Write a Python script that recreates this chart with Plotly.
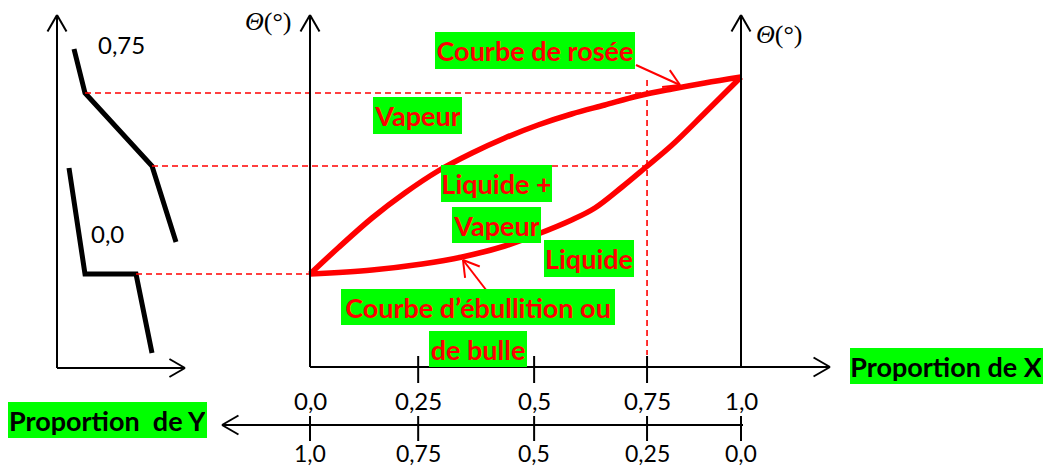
import math
import plotly.graph_objects as go

W, H = 1049, 470

# ---------------- data ----------------
# dew curve (courbe de rosée): vapour composition vs temperature
dew_x = [0.0, 0.065, 0.144, 0.220, 0.297, 0.376, 0.452, 0.529, 0.607, 0.684, 0.761, 0.840, 0.916, 1.0]
dew_theta = [93, 119, 149, 174, 196, 214, 229, 242, 253, 262, 271, 278, 284, 290]
# bubble curve (courbe d'ébullition)
bub_x = [0.0, 0.144, 0.260, 0.353, 0.452, 0.529, 0.607, 0.661, 0.724, 0.777, 0.840, 0.916, 1.0]
bub_theta = [93, 97, 103, 110, 121, 133, 147, 159, 180, 199, 222, 254, 290]
# cooling curves (time, temperature)
cool75_t = [1.7, 2.8, 9.5, 11.9]
cool75_theta = [318, 274, 201, 125]
cool0_t = [1.2, 2.8, 7.9, 9.5]
cool0_theta = [199, 93, 93, 14]
# proportion scales
x_tick_labels = ["0,0", "0,25", "0,5", "0,75", "1,0"]
y_tick_labels = ["1,0", "0,75", "0,5", "0,25", "0,0"]
tick_pos = [0.0, 0.251, 0.520, 0.782, 1.0]   # drawn positions on the X axis
comp_index = 3                               # composition studied (0,75)

# ---------------- scales ----------------
X0, X1 = -310 / 431, 739 / 431
T0, T1 = -5.7, 99.2
Y0, Y1 = -103, 367

def xp(x):
    return (x - X0) / (X1 - X0)

def tp(t):
    return (t - T0) / (T1 - T0)

def ppx(px):
    return px / W

def ppy(py):
    return 1 - py / H

RED = "#ff0000"
GREEN = "#00ff00"

fig = go.Figure()
fig.add_trace(go.Scatter(x=dew_x, y=dew_theta, mode="lines",
                         line=dict(color=RED, width=5.5, shape="spline", smoothing=1),
                         hoverinfo="skip", showlegend=False))
fig.add_trace(go.Scatter(x=bub_x, y=bub_theta, mode="lines",
                         line=dict(color=RED, width=5.5, shape="spline", smoothing=1),
                         hoverinfo="skip", showlegend=False))
fig.add_trace(go.Scatter(x=cool75_t, y=cool75_theta, xaxis="x2", mode="lines",
                         line=dict(color="black", width=5), hoverinfo="skip", showlegend=False))
fig.add_trace(go.Scatter(x=cool0_t, y=cool0_theta, xaxis="x2", mode="lines",
                         line=dict(color="black", width=5), hoverinfo="skip", showlegend=False))

shapes = []

def pline(x0, y0, x1, y1, color="black", width=2, dash="solid"):
    shapes.append(dict(type="line", xref="paper", yref="paper",
                       x0=ppx(x0), y0=ppy(y0), x1=ppx(x1), y1=ppy(y1),
                       line=dict(color=color, width=width, dash=dash), layer="above"))

def chevron(tipx, tipy, fromx, fromy, color="black", width=2, length=19, half=30):
    dx, dy = fromx - tipx, fromy - tipy
    n = math.hypot(dx, dy)
    ang = math.atan2(dy / n, dx / n)
    for s in (1, -1):
        a = ang + s * math.radians(half)
        pline(tipx, tipy, tipx + length * math.cos(a), tipy + length * math.sin(a), color, width)

# red dashed construction lines (data coordinates on y)
comp_x = tick_pos[comp_index]
def dash_h(xa, xb, th):
    shapes.append(dict(type="line", xref="paper", yref="y", x0=xa, x1=xb, y0=th, y1=th,
                       line=dict(color=RED, width=1.6, dash="6px,4px"), layer="above"))
dash_h(tp(cool75_t[1]), xp(comp_x), cool75_theta[1])
dash_h(tp(cool75_t[2]), xp(comp_x), cool75_theta[2])
dash_h(tp(cool0_t[2]), xp(0), cool0_theta[1])
shapes.append(dict(type="line", xref="x", yref="y", x0=comp_x, x1=comp_x, y0=287, y1=12,
                   line=dict(color=RED, width=1.6, dash="6px,4px"), layer="above"))

# axes of the cooling-curve diagram
pline(57, 368, 57, 15); chevron(57, 15, 57, 368)
pline(57, 368, 185, 368); chevron(185, 368, 57, 368, length=18)
# main diagram axes
pline(310, 367, 310, 15); chevron(310, 15, 310, 367)
pline(741, 367, 741, 15); chevron(741, 15, 741, 367)
pline(310, 367, 830, 367); chevron(830, 367, 310, 367)
for tpv in tick_pos[1:-1]:
    shapes.append(dict(type="line", xref="x", yref="paper", x0=tpv, x1=tpv,
                       y0=ppy(356), y1=ppy(383), line=dict(color="black", width=2), layer="above"))
# double proportion scale
pline(222, 425, 743, 425); chevron(222, 425, 743, 425)
for tpv in tick_pos:
    shapes.append(dict(type="line", xref="x", yref="paper", x0=tpv, x1=tpv,
                       y0=ppy(416), y1=ppy(441), line=dict(color="black", width=2), layer="above"))

# red pointer arrows
pline(636, 65, 680, 85, RED, 2); chevron(680, 85, 636, 65, RED, 2, 18, 31)
pline(490, 295, 463, 260, RED, 2); chevron(463, 260, 490, 295, RED, 2, 18, 31)

annotations = []

def text(px, py, s, size=24, color="black", family="Lato", bold=False):
    annotations.append(dict(xref="paper", yref="paper", x=ppx(px), y=ppy(py), text=s,
                            showarrow=False, xanchor="center", yanchor="middle",
                            font=dict(family=family, size=size, color=color,
                                      weight="bold" if bold else "normal")))

def gbox(cx, cy, w, h, s, color=RED):
    annotations.append(dict(xref="paper", yref="paper", x=ppx(cx), y=ppy(cy), text=s,
                            showarrow=False, xanchor="center", yanchor="middle",
                            width=w - 4, height=h - 4, borderpad=2, borderwidth=0,
                            bgcolor=GREEN,
                            font=dict(family="Lato", size=27, color=color, weight="bold")))

for lbl, tpv in zip(x_tick_labels, tick_pos):
    annotations.append(dict(xref="x", yref="paper", x=tpv, y=ppy(400), text=lbl,
                            showarrow=False, xanchor="center", yanchor="middle",
                            font=dict(family="Lato", size=24, color="black")))
for lbl, tpv in zip(y_tick_labels, tick_pos):
    annotations.append(dict(xref="x", yref="paper", x=tpv, y=ppy(453), text=lbl,
                            showarrow=False, xanchor="center", yanchor="middle",
                            font=dict(family="Lato", size=23, color="black")))

text(121, 45, "0,75")
text(107, 234, "0,0")
text(268, 22, "<i>Θ</i>(°)", size=26, family="Liberation Serif")
text(779, 34, "<i>Θ</i>(°)", size=26, family="Liberation Serif")

gbox(535, 50.5, 200, 37, "Courbe de rosée")
gbox(417.5, 115.5, 89, 37, "Vapeur")
gbox(496.5, 183.5, 111, 37, "Liquide +")
gbox(496.5, 225, 89, 36, "Vapeur")
gbox(588.5, 258.5, 90, 37, "Liquide")
gbox(478, 307, 274, 36, "Courbe d’ébullition ou")
gbox(478, 349, 98, 36, "de bulle")
gbox(946.5, 366, 193, 36, "Proportion de X", color="black")
gbox(107.5, 420, 199, 36, "Proportion&nbsp; de Y", color="black")

fig.update_layout(
    width=W, height=H, autosize=False,
    margin=dict(l=0, r=0, t=0, b=0),
    paper_bgcolor="white", plot_bgcolor="white",
    xaxis=dict(range=[X0, X1], visible=False, fixedrange=True),
    xaxis2=dict(range=[T0, T1], visible=False, overlaying="x", anchor="y", fixedrange=True),
    yaxis=dict(range=[Y0, Y1], visible=False, fixedrange=True),
    shapes=shapes, annotations=annotations, showlegend=False,
)

fig.write_html("out.html", config={"displayModeBar": False},
               post_script="document.body.style.margin='0';")
